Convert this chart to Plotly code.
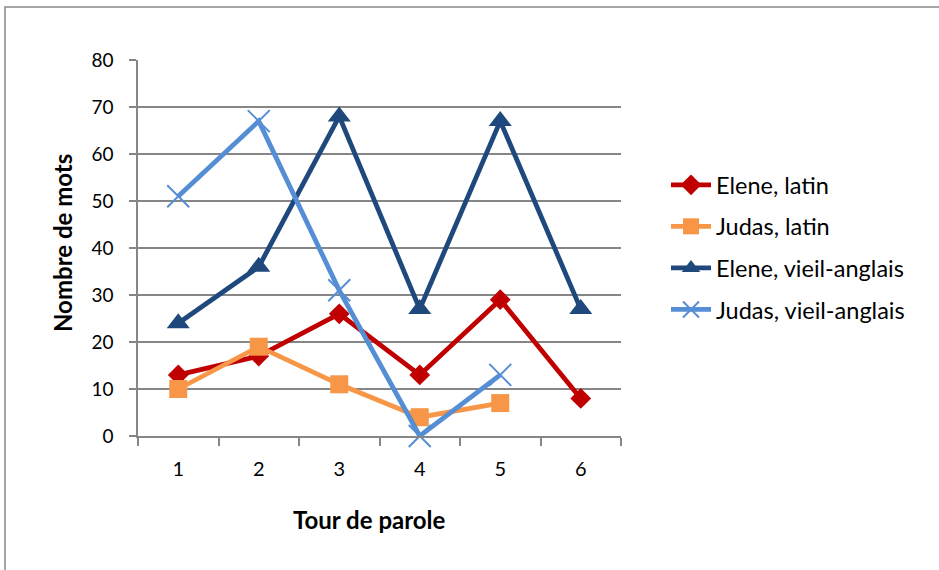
import plotly.graph_objects as go

tours = ["1", "2", "3", "4", "5", "6"]
elene_latin = [13, 17, 26, 13, 29, 8]
judas_latin = [10, 19, 11, 4, 7]
elene_va = [24, 36, 68, 27, 67, 27]
judas_va = [51, 67, 31, 0, 13]

FONT = "Lato, Carlito, Calibri, sans-serif"

fig = go.Figure()
fig.add_trace(go.Scatter(x=tours[:len(elene_latin)], y=elene_latin, name="Elene, latin",
                         legendgroup="a", cliponaxis=False,
                         mode="lines+markers", line=dict(color="#C00000", width=4.8),
                         marker=dict(symbol="diamond", size=16, color="#C00000")))
fig.add_trace(go.Scatter(x=tours[:len(judas_latin)], y=judas_latin, name="Judas, latin",
                         legendgroup="b", cliponaxis=False,
                         mode="lines+markers", line=dict(color="#F79646", width=4.8),
                         marker=dict(symbol="square", size=18, color="#F79646")))
fig.add_trace(go.Scatter(x=tours[:len(elene_va)], y=elene_va, name="Elene, vieil-anglais",
                         legendgroup="c", cliponaxis=False,
                         mode="lines+markers", line=dict(color="#1F497D", width=4.8),
                         marker=dict(symbol="triangle-up", size=20, color="#1F497D")))
fig.add_trace(go.Scatter(x=tours[:len(judas_va)], y=judas_va, name="Judas, vieil-anglais",
                         legendgroup="d", cliponaxis=False,
                         mode="lines+markers", line=dict(color="#558ED5", width=4.8),
                         marker=dict(symbol="x-thin", size=22, color="#558ED5",
                                     line=dict(color="#558ED5", width=2))))

L, R, T, B = 138, 318, 60, 134
W, H = 939, 570
pw, ph = W - L - R, H - T - B

def px(x):
    return (x - L) / pw

def py(y):
    return (H - B - y) / ph

fig.update_layout(
    width=W, height=H,
    margin=dict(l=L, r=R, t=T, b=B, pad=0),
    paper_bgcolor="white", plot_bgcolor="white",
    font=dict(family=FONT, size=18, color="black"),
    showlegend=True,
    legend=dict(x=px(666), y=py(163), xanchor="left", yanchor="top",
                font=dict(size=23.5), traceorder="grouped", tracegroupgap=8,
                itemwidth=40, bgcolor="rgba(0,0,0,0)"),
    xaxis=dict(type="category", categoryorder="array", categoryarray=tours,
               range=[-0.5, 5.5], tickson="boundaries", ticks="outside", ticklen=8,
               tickcolor="#868686", tickwidth=1.5, showline=True, linecolor="#868686",
               linewidth=1.5, showgrid=False, tickfont=dict(size=20),
               ticklabelstandoff=14),
    yaxis=dict(range=[0, 80], dtick=10, ticks="outside", ticklen=7, tickcolor="#868686",
               tickwidth=1.5, showline=True, linecolor="#868686", linewidth=1.5,
               showgrid=True, gridcolor="#868686", gridwidth=1.5, zeroline=False,
               tickfont=dict(size=19), ticklabelstandoff=12),
)

fig.add_annotation(text="<b>Tour de parole</b>", xref="paper", yref="paper",
                   x=px(369), y=py(519), xanchor="center", yanchor="middle",
                   showarrow=False, font=dict(size=24, family=FONT))
fig.add_annotation(text="<b>Nombre de mots</b>", xref="paper", yref="paper",
                   x=px(62), y=py(243), xanchor="center", yanchor="middle",
                   textangle=-90, showarrow=False, font=dict(size=24, family=FONT))

fig.add_shape(type="rect", xref="paper", yref="paper",
              x0=px(5), x1=px(W + 20), y0=py(H + 20), y1=py(7),
              line=dict(color="#888888", width=1.5), fillcolor="rgba(0,0,0,0)", layer="below")

fig.write_html("out.html", config={"displayModeBar": False},
               post_script="document.body.style.margin='0px';")
